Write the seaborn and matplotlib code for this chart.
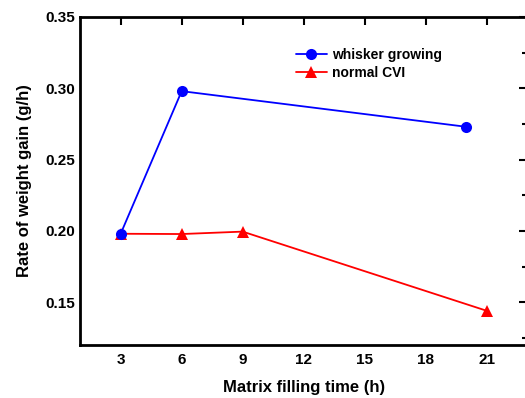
import matplotlib
matplotlib.use("Agg")
import matplotlib.pyplot as plt
import seaborn as sns
import pandas as pd
from matplotlib.ticker import MultipleLocator

whisker_x = [3, 6, 20]
whisker_y = [0.198, 0.298, 0.273]
cvi_x = [3, 6, 9, 21]
cvi_y = [0.198, 0.1978, 0.1995, 0.144]
series_names = ["whisker growing", "normal CVI"]
xticks = [3, 6, 9, 12, 15, 18, 21]

df = pd.DataFrame({
    "x": whisker_x + cvi_x,
    "y": whisker_y + cvi_y,
    "series": [series_names[0]] * len(whisker_x) + [series_names[1]] * len(cvi_x),
})

sns.set_style("white")
plt.rcParams['font.family'] = ['Liberation Sans', 'DejaVu Sans']
plt.rcParams['text.color'] = 'black'
plt.rcParams['axes.labelcolor'] = 'black'
plt.rcParams['xtick.color'] = 'black'
plt.rcParams['ytick.color'] = 'black'

fig = plt.figure(figsize=(5.25, 3.98), dpi=100)
ax = fig.add_axes([0.1524, 0.1332, 0.852, 0.8241])

sns.lineplot(data=df, x="x", y="y", hue="series", style="series",
             hue_order=series_names, style_order=series_names,
             palette={series_names[0]: "#0000ff", series_names[1]: "#ff0000"},
             markers={series_names[0]: "o", series_names[1]: "^"},
             dashes=False, markersize=8, markeredgewidth=0, linewidth=1.3,
             ax=ax, legend=True)
lines = ax.get_lines()
if lines:
    lines[0].set_zorder(3)

ax.set_xlim(1, 23)
ax.set_ylim(0.12, 0.35)
ax.set_xticks(xticks)
ax.yaxis.set_major_locator(MultipleLocator(0.05))
ax.yaxis.set_minor_locator(MultipleLocator(0.025))
ax.tick_params(which="both", direction="in", top=True, right=True, width=1.5, colors="black")
ax.tick_params(which="major", length=6, labelsize=11)
ax.tick_params(which="minor", length=3.5)
ax.tick_params(axis="x", pad=6)
for lab in ax.get_xticklabels() + ax.get_yticklabels():
    lab.set_fontweight("bold")
for sp in ax.spines.values():
    sp.set_linewidth(2)
    sp.set_color("black")

ax.set_xlabel("Matrix filling time (h)", fontsize=12, fontweight="bold", labelpad=9, color="black")
ax.set_ylabel("Rate of weight gain (g/h)", fontsize=12, fontweight="bold", labelpad=10, color="black")

leg = ax.legend(loc="upper left", bbox_to_anchor=(0.455, 0.945), frameon=False,
                handlelength=2.2, handletextpad=0.4, labelspacing=0.32,
                prop={"weight": "bold", "size": 10})
for t in leg.get_texts():
    t.set_color("black")

fig.savefig("out.png", dpi=100)
